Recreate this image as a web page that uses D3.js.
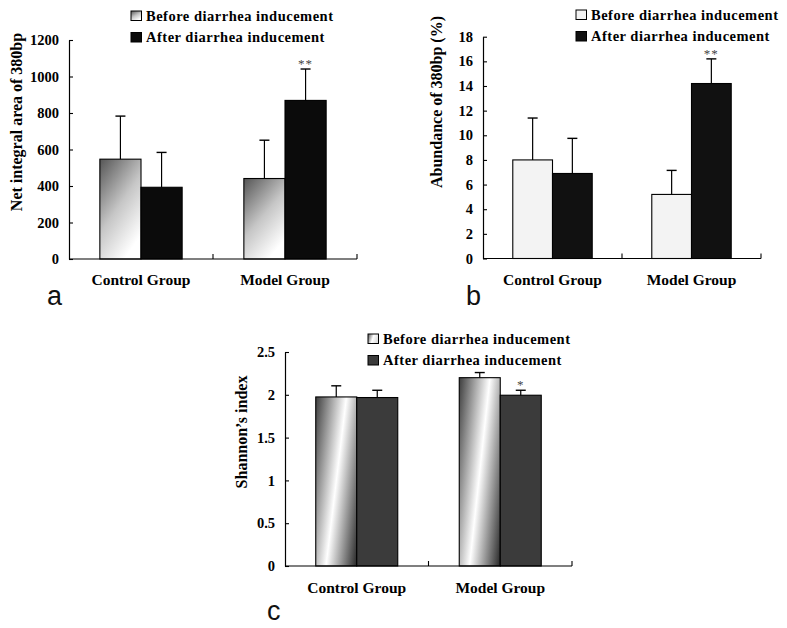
<!DOCTYPE html>
<html>
<head>
<meta charset="utf-8">
<script src="https://cdn.jsdelivr.net/npm/d3@7"></script>
<style>
  html, body { margin: 0; padding: 0; background: #fff; }
  svg { display: block; }
</style>
</head>
<body>
<svg id="chart" width="787" height="628"></svg>
<script>
// ---------------- DATA ----------------
const groups = ["Control Group", "Model Group"];
const seriesNames = ["Before diarrhea inducement", "After diarrhea inducement"];

// Panel a: Net integral area of 380bp
const aBefore = [547, 441];
const aBeforeErr = [236, 210];
const aAfter = [393, 869];
const aAfterErr = [191, 172];
const aTicks = [0, 200, 400, 600, 800, 1000, 1200];
const aSig = ["", "**"];

// Panel b: Abundance of 380bp (%)
const bBefore = [8.0, 5.2];
const bBeforeErr = [3.4, 1.95];
const bAfter = [6.9, 14.2];
const bAfterErr = [2.85, 2.0];
const bTicks = [0, 2, 4, 6, 8, 10, 12, 14, 16, 18];
const bSig = ["", "**"];

// Panel c: Shannon's index
const cBefore = [1.975, 2.20];
const cBeforeErr = [0.13, 0.06];
const cAfter = [1.968, 1.995];
const cAfterErr = [0.085, 0.058];
const cTicks = [0, 0.5, 1, 1.5, 2, 2.5];
const cSig = ["", "*"];

// ---------------- RENDER ----------------
const SERIF = "'Liberation Serif','Times New Roman',serif";
const SANS = "'Liberation Sans',Arial,sans-serif";
const svg = d3.select("#chart");
const defs = svg.append("defs");

// gradients
const gA = defs.append("linearGradient").attr("id", "gradA")
  .attr("x1", 0).attr("y1", 0).attr("x2", 0.6).attr("y2", 1);
gA.append("stop").attr("offset", 0).attr("stop-color", "#555555");
gA.append("stop").attr("offset", 0.55).attr("stop-color", "#c6c6c6");
gA.append("stop").attr("offset", 1).attr("stop-color", "#ffffff");

const gCL = defs.append("linearGradient").attr("id", "gradCLegend")
  .attr("x1", 0).attr("y1", 0).attr("x2", 1).attr("y2", 0.3);
gCL.append("stop").attr("offset", 0).attr("stop-color", "#555");
gCL.append("stop").attr("offset", 0.55).attr("stop-color", "#fff");
gCL.append("stop").attr("offset", 1).attr("stop-color", "#ddd");

let gradCount = 0;
function cGradient(x, y, w, h) {
  const id = "gradC" + (gradCount++);
  const cx = x + w / 2, cy = y + h / 2;
  const ux = h, uy = 0.5 * w;
  const n = Math.sqrt(ux * ux + uy * uy);
  const d = 0.75 * w;
  const g = defs.append("linearGradient").attr("id", id)
    .attr("gradientUnits", "userSpaceOnUse")
    .attr("x1", cx - d * ux / n).attr("y1", cy - d * uy / n)
    .attr("x2", cx + d * ux / n).attr("y2", cy + d * uy / n);
  g.append("stop").attr("offset", 0).attr("stop-color", "#3c3c3c");
  g.append("stop").attr("offset", 0.5).attr("stop-color", "#ffffff");
  g.append("stop").attr("offset", 1).attr("stop-color", "#262626");
  return "url(#" + id + ")";
}

const panels = [
  {
    before: aBefore, beforeErr: aBeforeErr, after: aAfter, afterErr: aAfterErr,
    ticks: aTicks, sig: aSig, fmt: d3.format("d"),
    x0: 69, x1: 357, yBottom: 259, yTop: 40,
    title: "Net integral area of 380bp", titleX: 16, titleY: 122,
    fills: ["url(#gradA)", "#0b0b0b"], legendFills: ["url(#gradA)", "#0b0b0b"],
    legendX: 131, legendY: 11, labelBase: 285,
    letter: "a", letterX: 47, letterY: 305
  },
  {
    before: bBefore, beforeErr: bBeforeErr, after: bAfter, afterErr: bAfterErr,
    ticks: bTicks, sig: bSig, fmt: d3.format("d"),
    x0: 483, x1: 761, yBottom: 258.5, yTop: 36.7,
    title: "Abundance of 380bp (%)", titleX: 436, titleY: 102,
    fills: ["#f3f3f3", "#111111"], legendFills: ["#f3f3f3", "#111111"],
    legendX: 576, legendY: 10, labelBase: 285,
    letter: "b", letterX: 466, letterY: 305
  },
  {
    before: cBefore, beforeErr: cBeforeErr, after: cAfter, afterErr: cAfterErr,
    ticks: cTicks, sig: cSig, fmt: d => d3.format("")(d),
    x0: 285, x1: 572, yBottom: 566, yTop: 352,
    title: "Shannon\u2019s index", titleX: 241, titleY: 432,
    fills: ["cgrad", "#3b3b3b"], legendFills: ["url(#gradCLegend)", "#3b3b3b"],
    legendX: 368, legendY: 334, labelBase: 593,
    letter: "c", letterX: 267, letterY: 620
  }
];

panels.forEach(p => {
  const g = svg.append("g");
  const y = d3.scaleLinear()
    .domain([p.ticks[0], p.ticks[p.ticks.length - 1]])
    .range([p.yBottom, p.yTop]);
  const xG = d3.scaleBand().domain(groups).range([p.x0, p.x1]).padding(0);
  const xS = d3.scaleBand().domain(seriesNames)
    .range([0, xG.bandwidth()]).paddingInner(0).paddingOuter(0.75);

  const data = [];
  groups.forEach((grp, i) => {
    data.push({ grp, s: seriesNames[0], v: p.before[i], e: p.beforeErr[i], sig: "", si: 0 });
    data.push({ grp, s: seriesNames[1], v: p.after[i], e: p.afterErr[i], sig: p.sig[i], si: 1 });
  });

  // bars
  g.selectAll("rect.bar").data(data).join("rect")
    .attr("class", "bar")
    .attr("x", d => xG(d.grp) + xS(d.s))
    .attr("y", d => y(d.v))
    .attr("width", xS.bandwidth())
    .attr("height", d => y(0) - y(d.v))
    .attr("fill", d => {
      const f = p.fills[d.si];
      if (f === "cgrad") return cGradient(xG(d.grp) + xS(d.s), y(d.v), xS.bandwidth(), y(0) - y(d.v));
      return f;
    })
    .attr("stroke", "#000").attr("stroke-width", 1.1);

  // error bars (upper only)
  const eg = g.selectAll("g.err").data(data).join("g").attr("class", "err");
  eg.append("line")
    .attr("x1", d => xG(d.grp) + xS(d.s) + xS.bandwidth() / 2)
    .attr("x2", d => xG(d.grp) + xS(d.s) + xS.bandwidth() / 2)
    .attr("y1", d => y(d.v)).attr("y2", d => y(d.v + d.e))
    .attr("stroke", "#000").attr("stroke-width", 1.2);
  eg.append("line")
    .attr("x1", d => xG(d.grp) + xS(d.s) + xS.bandwidth() / 2 - 5)
    .attr("x2", d => xG(d.grp) + xS(d.s) + xS.bandwidth() / 2 + 5)
    .attr("y1", d => y(d.v + d.e)).attr("y2", d => y(d.v + d.e))
    .attr("stroke", "#000").attr("stroke-width", 1.4);
  eg.filter(d => d.sig).append("text")
    .attr("x", d => xG(d.grp) + xS(d.s) + xS.bandwidth() / 2)
    .attr("y", d => y(d.v + d.e) - 1)
    .attr("text-anchor", "middle")
    .attr("font-family", SERIF).attr("font-size", 13).attr("fill", "#444")
    .attr("letter-spacing", 1)
    .text(d => d.sig);

  // y axis
  const yAxis = d3.axisLeft(y).tickValues(p.ticks).tickFormat(p.fmt)
    .tickSizeInner(-4).tickSizeOuter(0).tickPadding(10);
  const ya = g.append("g").attr("transform", `translate(${p.x0},0)`).call(yAxis);
  ya.select(".domain").attr("stroke", "#000").attr("stroke-width", 1.2);
  ya.selectAll(".tick line").attr("stroke", "#000").attr("stroke-width", 1.1);
  ya.selectAll(".tick text").attr("font-family", SERIF).attr("font-weight", "bold")
    .attr("font-size", 14.5).attr("fill", "#000");

  // x axis
  g.append("line").attr("x1", p.x0).attr("x2", p.x1)
    .attr("y1", y(0)).attr("y2", y(0)).attr("stroke", "#000").attr("stroke-width", 1.2);
  g.selectAll("line.xt").data(groups).join("line").attr("class", "xt")
    .attr("x1", d => xG(d) + xG.bandwidth()).attr("x2", d => xG(d) + xG.bandwidth())
    .attr("y1", y(0)).attr("y2", y(0) - 5).attr("stroke", "#000").attr("stroke-width", 1.1);
  g.selectAll("text.xl").data(groups).join("text").attr("class", "xl")
    .attr("x", d => xG(d) + xG.bandwidth() / 2).attr("y", p.labelBase)
    .attr("text-anchor", "middle")
    .attr("font-family", SERIF).attr("font-weight", "bold").attr("font-size", 15.5)
    .text(d => d);

  // y title
  g.append("text")
    .attr("transform", `translate(${p.titleX},${p.titleY}) rotate(-90)`)
    .attr("text-anchor", "middle").attr("dy", "0.35em")
    .attr("font-family", SERIF).attr("font-weight", "bold").attr("font-size", 16)
    .text(p.title);

  // legend
  const lg = g.append("g").attr("transform", `translate(${p.legendX},${p.legendY})`);
  seriesNames.forEach((s, i) => {
    lg.append("rect").attr("x", 0).attr("y", i * 21.5).attr("width", 10.5).attr("height", 9.5)
      .attr("fill", p.legendFills[i]).attr("stroke", "#000").attr("stroke-width", 1);
    lg.append("text").attr("x", 15).attr("y", i * 21.5 + 9.5)
      .attr("font-family", SERIF).attr("font-weight", "bold").attr("font-size", 14.5)
      .attr("letter-spacing", 0.5)
      .text(s);
  });

  // panel letter
  g.append("text").attr("x", p.letterX).attr("y", p.letterY)
    .attr("font-family", SANS).attr("font-size", 27).attr("fill", "#111")
    .text(p.letter);
});
</script>
</body>
</html>
